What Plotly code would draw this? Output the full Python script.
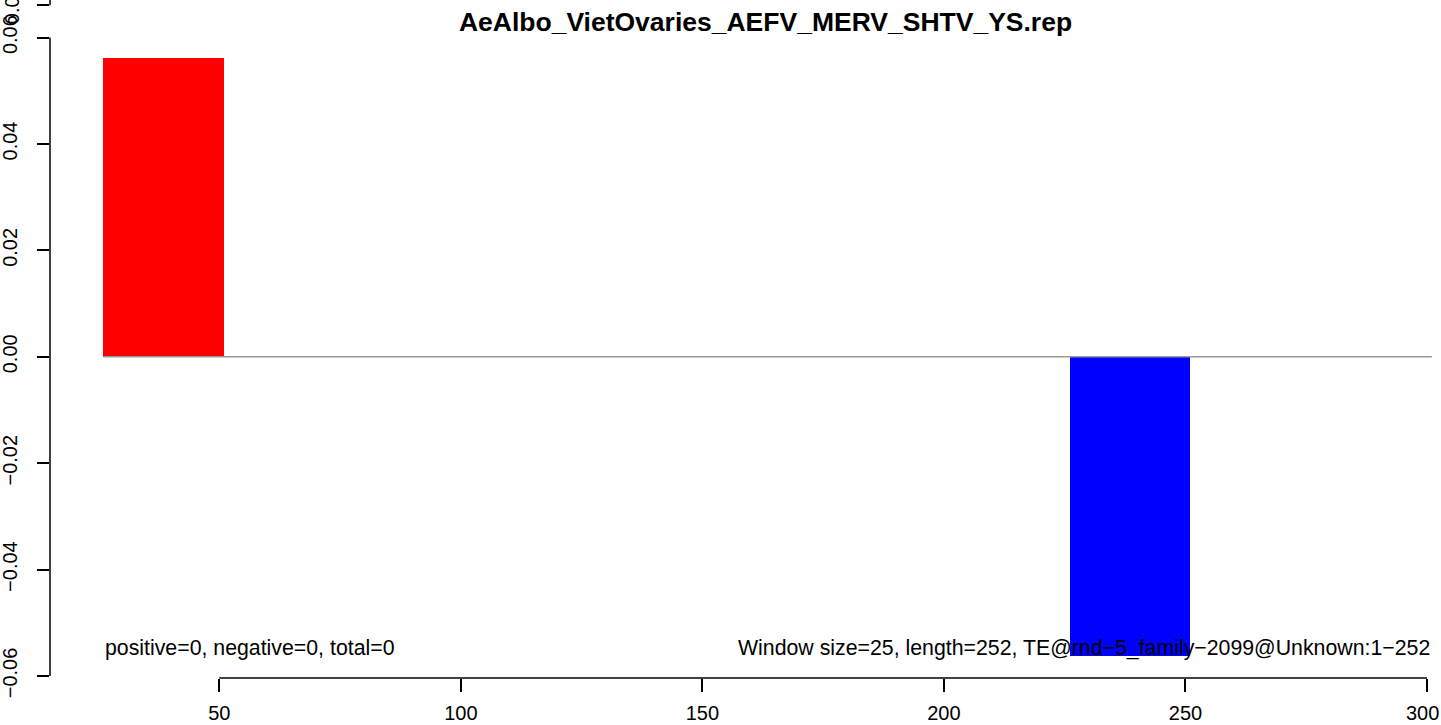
import plotly.graph_objects as go

title = "AeAlbo_VietOvaries_AEFV_MERV_SHTV_YS.rep"
window_size = 25
window_start = [26, 226]
values = [0.0562, -0.0562]
bar_colors = ["#FF0000", "#0000FF"]
zero_line_x = [26, 301]
x_ticks = [50, 100, 150, 200, 250, 300]
y_ticks = [-0.06, -0.04, -0.02, 0.0, 0.02, 0.04, 0.06]
y_tick_labels = ["\u22120.06", "\u22120.04", "\u22120.02", "0.00", "0.02", "0.04", "0.06"]
extra_tick = 0.0661
extra_tick_label = "0.06"
left_text = "positive=0, negative=0, total=0"
right_text = "Window size=25, length=252, TE@rnd\u22125_family\u22122099@Unknown:1\u2212252"

FONT = "Liberation Sans, Arial, Helvetica, sans-serif"
x_range = [14.96, 302.9]
y_range = [-0.06038, 0.06707]

fig = go.Figure()
fig.add_trace(go.Bar(
    x=[s + window_size / 2 for s in window_start],
    y=values,
    width=[window_size] * len(values),
    marker=dict(color=bar_colors, line=dict(width=0)),
    showlegend=False,
    hoverinfo="skip",
))
fig.add_trace(go.Scatter(
    x=zero_line_x, y=[0, 0], mode="lines",
    line=dict(color="#999999", width=1.5),
    showlegend=False, hoverinfo="skip",
))

# axis lines (R style: span first to last tick)
fig.add_shape(type="line", xref="x", yref="paper", x0=x_ticks[0], x1=x_ticks[-1], y0=0, y1=0,
              line=dict(color="black", width=1.5))
fig.add_shape(type="line", xref="paper", yref="y", x0=0, x1=0, y0=y_ticks[0], y1=y_ticks[-1],
              line=dict(color="black", width=1.5))
fig.add_shape(type="line", xref="paper", yref="y", x0=0, x1=0, y0=extra_tick, y1=y_range[1],
              line=dict(color="black", width=1.5))

fig.add_annotation(x=zero_line_x[0], y=-0.0547, xref="x", yref="y", text=left_text,
                   showarrow=False, xanchor="left", yanchor="middle",
                   font=dict(family=FONT, size=21.3, color="black"))
fig.add_annotation(x=zero_line_x[1], y=-0.0547, xref="x", yref="y", text=right_text,
                   showarrow=False, xanchor="right", yanchor="middle",
                   font=dict(family=FONT, size=21.3, color="black"))
# the partly hidden top tick label and the last x tick label (kept inside the page)
fig.add_annotation(x=0, y=extra_tick, xref="paper", yref="y", text=extra_tick_label,
                   showarrow=False, textangle=-90, xanchor="center", yanchor="middle",
                   xshift=-38, font=dict(family=FONT, size=20, color="black"))
fig.add_annotation(x=x_ticks[-1], y=0, xref="x", yref="paper", text=str(x_ticks[-1]),
                   showarrow=False, xanchor="right", yanchor="middle",
                   xshift=14, yshift=-35, font=dict(family=FONT, size=20, color="black"))

fig.update_layout(
    width=1441, height=725,
    margin=dict(l=50, r=0, t=0, b=47, autoexpand=False),
    paper_bgcolor="white", plot_bgcolor="white",
    bargap=0,
    title=dict(text="<b>" + title + "</b>", x=(50 + 1481) / 2 / 1441, xanchor="center",
               y=1 - 22 / 725, yanchor="middle",
               font=dict(family=FONT, size=26.5, color="black")),
    font=dict(family=FONT, size=20, color="black"),
)
fig.update_xaxes(
    range=x_range, showgrid=False, zeroline=False, showline=False, automargin=False,
    tickmode="array", tickvals=x_ticks, ticktext=[str(v) for v in x_ticks[:-1]] + [""],
    ticks="outside", ticklen=13, tickwidth=1.5, tickcolor="black", ticklabelstandoff=4,
    tickfont=dict(family=FONT, size=20, color="black"),
)
fig.update_yaxes(
    range=y_range, showgrid=False, zeroline=False, showline=False, automargin=False,
    tickmode="array", tickvals=y_ticks + [extra_tick], ticktext=y_tick_labels + [""],
    ticks="outside", ticklen=12, tickwidth=1.5, tickcolor="black", tickangle=-90,
    ticklabelstandoff=12,
    tickfont=dict(family=FONT, size=20, color="black"),
)

fig.write_html("out.html", config={"displayModeBar": False},
               post_script="document.body.style.margin='0';document.body.style.overflow='hidden';")
